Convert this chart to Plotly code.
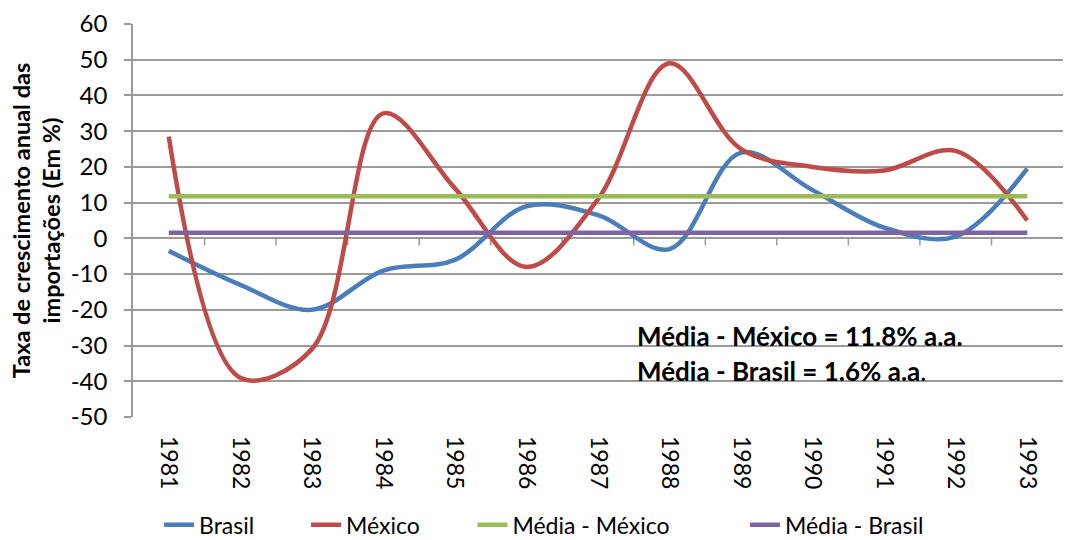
import plotly.graph_objects as go

years = ["1981", "1982", "1983", "1984", "1985", "1986", "1987",
         "1988", "1989", "1990", "1991", "1992", "1993"]
brasil = [-3.5, -13, -20, -9, -6, 9, 6.5, -3, 24, 13.5, 3, 0.5, 19.5]
mexico = [28.5, -39, -31, 35, 14, -8, 11, 49, 25, 20, 19, 24.5, 5]
media_mexico = [11.8] * len(years)
media_brasil = [1.6] * len(years)
y_tick_vals = [-50, -40, -30, -20, -10, 0, 10, 20, 30, 40, 50, 60]
y_tick_text = [str(v) for v in y_tick_vals]

FONT = "Lato"
fig = go.Figure()
series = [
    ("Brasil", brasil, "#4A7EBB", True, "legend", 0.028),
    ("México", mexico, "#BE4B48", True, "legend2", 0.186),
    ("Média - México", media_mexico, "#9BBB59", False, "legend3", 0.365),
    ("Média - Brasil", media_brasil, "#8064A2", False, "legend4", 0.658),
]
for name, vals, col, smooth, leg, lx in series:
    fig.add_trace(go.Scatter(
        x=years, y=vals, name=name, mode="lines", legend=leg,
        line=dict(color=col, width=4.5,
                  shape="spline" if smooth else "linear", smoothing=1.0),
    ))

legend_common = dict(orientation="h", yref="container", y=0.028,
                     yanchor="middle", xanchor="left",
                     font=dict(family=FONT, size=23, color="black"),
                     bgcolor="rgba(0,0,0,0)")
legs = {}
for name, vals, col, smooth, leg, lx in series:
    legs[leg] = dict(x=lx, **legend_common)

# small category tick marks hanging under the zero line
for i in range(len(years) - 1):
    fig.add_shape(type="line", xref="x", yref="y",
                  x0=i + 0.5, x1=i + 0.5, y0=0, y1=-2,
                  line=dict(color="#9a9a9a", width=1.5), layer="below")

fig.add_annotation(x=6.52, y=-27.2, xref="x", yref="y", xanchor="left",
                   text="<b>Média - México = 11.8% a.a.</b>", showarrow=False,
                   font=dict(family=FONT, size=26, color="black"))
fig.add_annotation(x=6.52, y=-37.0, xref="x", yref="y", xanchor="left",
                   text="<b>Média - Brasil = 1.6% a.a</b>.", showarrow=False,
                   font=dict(family=FONT, size=26, color="black"))

fig.update_layout(
    width=1065, height=540,
    margin=dict(l=133, r=2, t=24, b=123, autoexpand=False),
    paper_bgcolor="white", plot_bgcolor="white",
    font=dict(family=FONT, size=23, color="black"),
    showlegend=True,
    **legs,
    xaxis=dict(type="category", range=[-0.5, 12.5], tickangle=90,
               showgrid=False, showline=False, ticks="", zeroline=False,
               tickfont=dict(size=23), ticklabelstandoff=18, automargin=False),
    yaxis=dict(range=[-50, 60], tickvals=y_tick_vals, ticktext=y_tick_text,
               showgrid=True, automargin=False,
               gridcolor="#9a9a9a", gridwidth=1.5, zeroline=True,
               zerolinecolor="#9a9a9a", zerolinewidth=1.5,
               showline=True, linecolor="#9a9a9a", linewidth=1.5,
               ticks="outside", ticklen=7, tickcolor="#9a9a9a",
               tickwidth=1.5, tickfont=dict(size=24), ticklabelstandoff=12,
               title=dict(text="<b>Taxa de crescimento anual das<br>importações (Em %)</b>",
                          font=dict(size=23.5), standoff=3)),
)

fig.write_html("out.html")
